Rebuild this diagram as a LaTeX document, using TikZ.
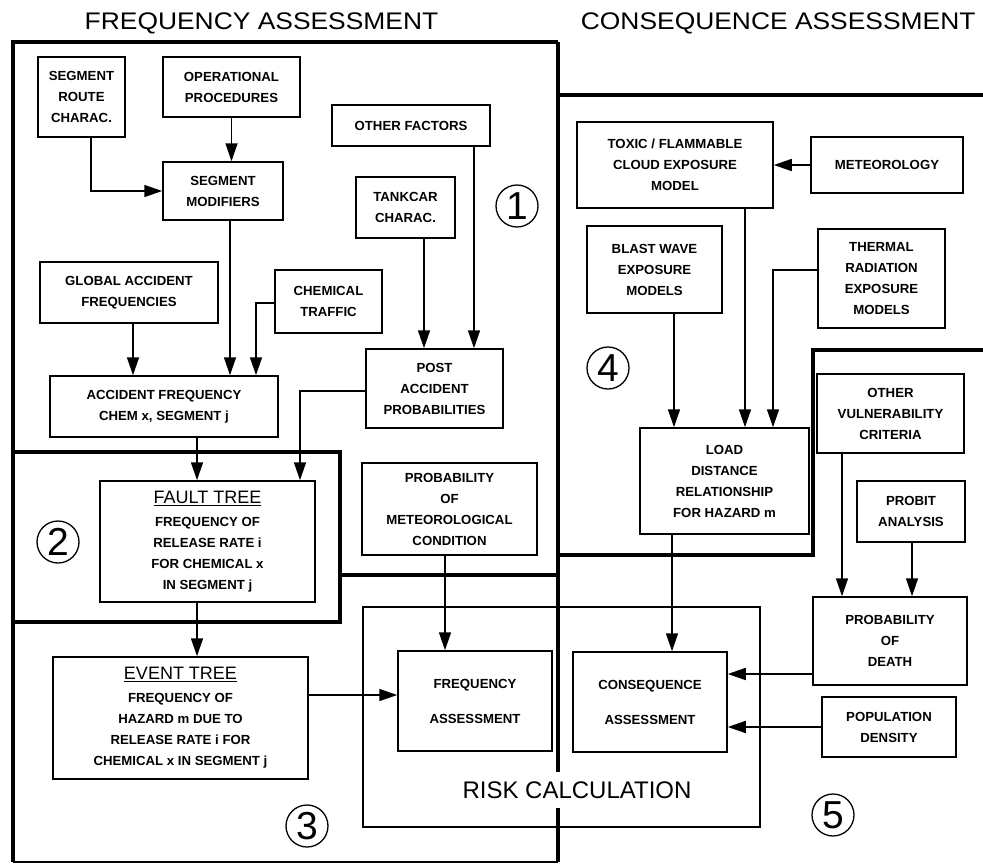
\documentclass[tikz,border=0pt]{standalone}
\usepackage{fontspec}
\setmainfont{Liberation Sans}
\usetikzlibrary{arrows.meta}
\begin{document}
\begin{tikzpicture}[x=1pt,y=-1pt,
  box/.style={draw, line width=1.5pt, align=center, inner sep=0pt,
    font=\fontsize{13.2}{21}\selectfont\bfseries},
  arr/.style={line width=1.5pt, -{Triangle[length=18pt,width=12pt]}},
  region/.style={line width=3.8pt},
  num/.style={draw, circle, line width=1.3pt, minimum size=42pt, inner sep=0pt,
    font=\fontsize{39}{39}\selectfont},
  title/.style={font=\fontsize{24}{24}\selectfont, xscale=1.1}
]
\useasboundingbox (0,0) rectangle (983,865);

% region borders
\draw[region] (13,42) -- (558,42);
\draw[region] (13,40) -- (13,862);
\draw[line width=2pt] (13,862) -- (558,862);
\draw[region] (558,42) -- (558,772);
\draw[region] (558,808) -- (558,862);
\draw[region] (558,575) -- (340,575) -- (340,452) -- (13,452);
\draw[region] (340,575) -- (340,622) -- (13,622);
\draw[region] (558,95) -- (983,95);
\draw[region] (558,555) -- (813,555) -- (813,350) -- (983,350);

% titles
\node[title] (t1) at (261.5,23) {FREQUENCY ASSESSMENT};
\node[title, anchor=west] (t2) at (577,23) {CONSEQUENCE ASSESSMENT};

% risk calculation box
\node[draw, line width=1.5pt, minimum width=397pt, minimum height=220pt, inner sep=0pt] (risk) at (561.5,717) {};
\node[font=\fontsize{24}{24}\selectfont] (risklbl) at (577,790) {RISK CALCULATION};

% nodes
\node[box, minimum width=87pt, minimum height=80pt] (srt) at (81.5,97) {SEGMENT\\ROUTE\\CHARAC.};
\node[box, minimum width=137pt, minimum height=60pt] (op) at (231.5,87) {OPERATIONAL\\PROCEDURES};
\node[box, minimum width=120pt, minimum height=58pt] (segmod) at (223,191) {SEGMENT\\MODIFIERS};
\node[box, minimum width=158pt, minimum height=41pt] (of) at (411,125.5) {OTHER FACTORS};
\node[box, minimum width=99pt, minimum height=61pt] (tank) at (405.5,207.5) {TANKCAR\\CHARAC.};
\node[box, minimum width=178pt, minimum height=61pt] (ga) at (129,292.5) {GLOBAL ACCIDENT\\FREQUENCIES};
\node[box, minimum width=107pt, minimum height=63pt] (ct) at (328.5,301.5) {CHEMICAL\\TRAFFIC};
\node[box, minimum width=228pt, minimum height=61pt] (af) at (164,406.5) {ACCIDENT FREQUENCY\\CHEM x, SEGMENT j};
\node[box, minimum width=137pt, minimum height=79pt] (post) at (434.5,388.5) {POST\\ACCIDENT\\PROBABILITIES};
\node[box, minimum width=215pt, minimum height=121pt] (ft) at (207.5,541.5)
  {{\fontsize{18}{24}\selectfont\mdseries\underline{FAULT TREE}}\\[2pt]FREQUENCY OF\\RELEASE RATE i\\FOR CHEMICAL x\\IN SEGMENT j};
\node[box, minimum width=175pt, minimum height=92pt] (pm) at (449.5,509) {PROBABILITY\\OF\\METEOROLOGICAL\\CONDITION};
\node[box, minimum width=255pt, minimum height=122pt] (et) at (180.5,718)
  {{\fontsize{18}{24}\selectfont\mdseries\underline{EVENT TREE}}\\[2pt]FREQUENCY OF\\HAZARD m DUE TO\\RELEASE RATE i FOR\\CHEMICAL x IN SEGMENT j};
\node[box, minimum width=154pt, minimum height=100pt] (fa) at (475,701) {FREQUENCY\\[14pt]ASSESSMENT};
\node[box, minimum width=154pt, minimum height=100pt] (ca) at (650,702) {CONSEQUENCE\\[14pt]ASSESSMENT};
\node[box, minimum width=196pt, minimum height=86pt] (tox) at (675,165) {TOXIC / FLAMMABLE\\CLOUD EXPOSURE\\MODEL};
\node[box, minimum width=152pt, minimum height=56pt] (met) at (887,165) {METEOROLOGY};
\node[box, minimum width=135pt, minimum height=87pt] (bw) at (654.5,269.5) {BLAST WAVE\\EXPOSURE\\MODELS};
\node[box, minimum width=127pt, minimum height=99pt] (th) at (881.5,278.5) {THERMAL\\RADIATION\\EXPOSURE\\MODELS};
\node[box, minimum width=169pt, minimum height=106pt] (ld) at (724.5,481) {LOAD\\DISTANCE\\RELATIONSHIP\\FOR HAZARD m};
\node[box, minimum width=147pt, minimum height=79pt] (ov) at (890.5,413.5) {OTHER\\VULNERABILITY\\CRITERIA};
\node[box, minimum width=108pt, minimum height=61pt] (pa) at (911,511.5) {PROBIT\\ANALYSIS};
\node[box, minimum width=154pt, minimum height=88pt] (pd) at (890,641) {PROBABILITY\\OF\\DEATH};
\node[box, minimum width=134pt, minimum height=60pt] (pdn) at (889,727) {POPULATION\\DENSITY};

% circled numbers
\node[num] (n1) at (517,206) {1};
\node[num] (n2) at (58,542) {2};
\node[num] (n3) at (307,826) {3};
\node[num] (n4) at (608,368) {4};
\node[num] (n5) at (833,815) {5};

% connectors
\draw[arr] (op.south) -- (op.south |- segmod.north);
\draw[arr] ([xshift=9.5pt]srt.south) |- (segmod.west);
\draw[arr] ([xshift=4pt]ga.south) -- ([xshift=-31pt]af.north);
\draw[arr] ([xshift=7pt]segmod.south) -- ([xshift=66pt]af.north);
\draw[arr] ([yshift=-1.5pt]ct.west) -| ([xshift=92pt]af.north);
\draw[arr] ([xshift=18.5pt]tank.south) -- ([xshift=-10.5pt]post.north);
\draw[arr] ([xshift=63pt]of.south) -- ([xshift=39.5pt]post.north);
\draw[arr] ([yshift=-2.5pt]post.west) -| ([xshift=92.5pt]ft.north);
\draw[arr] ([xshift=33pt]af.south) -- ([xshift=-10.5pt]ft.north);
\draw[arr] ([xshift=-10.5pt]ft.south) -- ([xshift=16.5pt]et.north);
\draw[arr] ([yshift=23pt]et.east) -- ([yshift=6pt]fa.west);
\draw[arr] ([xshift=-4.5pt]pm.south) -- ([xshift=-30pt]fa.north);
\draw[arr] (met.west) -- (tox.east);
\draw[arr] ([xshift=19.5pt]bw.south) -- ([xshift=-50.5pt]ld.north);
\draw[arr] ([xshift=70pt]tox.south) -- ([xshift=20.5pt]ld.north);
\draw[arr] ([yshift=8.5pt]th.west) -| ([xshift=48.5pt]ld.north);
\draw[arr] ([xshift=-52.5pt]ld.south) -- ([xshift=22pt]ca.north);
\draw[arr] ([xshift=-48.5pt]ov.south) -- ([xshift=-48pt]pd.north);
\draw[arr] ([xshift=1pt]pa.south) -- ([xshift=22pt]pd.north);
\draw[arr] ([yshift=-33pt]pd.west) -- ([yshift=28pt]ca.east);
\draw[arr] (pdn.west) -- ([yshift=-25pt]ca.east);
\end{tikzpicture}
\end{document}
